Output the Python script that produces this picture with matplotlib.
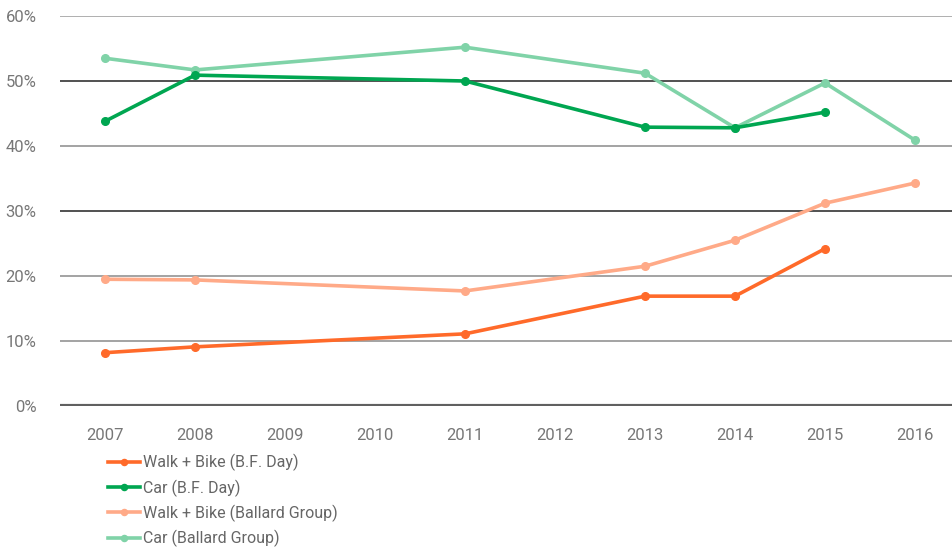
import matplotlib
matplotlib.use("Agg")
from matplotlib import pyplot as plt

years = ["2007", "2008", "2009", "2010", "2011", "2012", "2013", "2014", "2015", "2016"]

# x index of each measured year, values in percent
bf_idx = [0, 1, 4, 6, 7, 8]
walk_bf = [8.2, 9.1, 11.1, 16.9, 16.9, 24.2]
car_bf = [43.8, 50.9, 50.0, 42.9, 42.8, 45.2]

bg_idx = [0, 1, 4, 6, 7, 8, 9]
walk_bg = [19.5, 19.4, 17.7, 21.5, 25.5, 31.2, 34.3]
car_bg = [53.5, 51.7, 55.2, 51.2, 42.8, 49.7, 40.9]

plt.rcParams['font.family'] = ['Roboto', 'DejaVu Sans']

fig = plt.figure(figsize=(9.53, 5.52), dpi=100)
ax = fig.add_axes([60/953, 1-406/552, 1-60/953, (406-16)/552])

# gridlines
grid_col = {0: "#606060", 10: "#8a8a8a", 20: "#8a8a8a", 30: "#222222",
            40: "#8a8a8a", 50: "#222222", 60: "#9a9a9a"}
for v, c in grid_col.items():
    ax.axhline(v, color=c, lw=3 if v == 0 else 1.1, zorder=1)

ax.plot(bf_idx, walk_bf, color="#FF6A2A", lw=2.6, marker="o", ms=5.5,
        label="Walk + Bike (B.F. Day)", zorder=4)
ax.plot(bf_idx, car_bf, color="#00A651", lw=2.6, marker="o", ms=5.5,
        label="Car (B.F. Day)", zorder=4)
ax.plot(bg_idx, walk_bg, color="#FFAA88", lw=2.6, marker="o", ms=5.5,
        label="Walk + Bike (Ballard Group)", zorder=3)
ax.plot(bg_idx, car_bg, color="#80D3A8", lw=2.6, marker="o", ms=5.5,
        label="Car (Ballard Group)", zorder=3)

ax.set_xlim(-0.5, (953-105)/90)
ax.set_ylim(0, 60)
ax.set_xticks(range(len(years)))
ax.set_xticklabels(years)
ax.set_yticks([0, 10, 20, 30, 40, 50, 60])
ax.set_yticklabels([f"{v}%" for v in [0, 10, 20, 30, 40, 50, 60]])
ax.tick_params(axis="both", length=0, colors="#777777", labelsize=12)
ax.tick_params(axis="x", pad=16)
ax.tick_params(axis="y", pad=17)
for s in ax.spines.values():
    s.set_visible(False)

fig.legend(loc="upper left", bbox_to_anchor=(100/953, 1-446/552), frameon=False,
           fontsize=11.5, labelcolor="#666666", handlelength=2.0,
           handletextpad=0.2, labelspacing=0.5, borderpad=0, markerscale=0.8)

fig.savefig("out.png", dpi=100)
